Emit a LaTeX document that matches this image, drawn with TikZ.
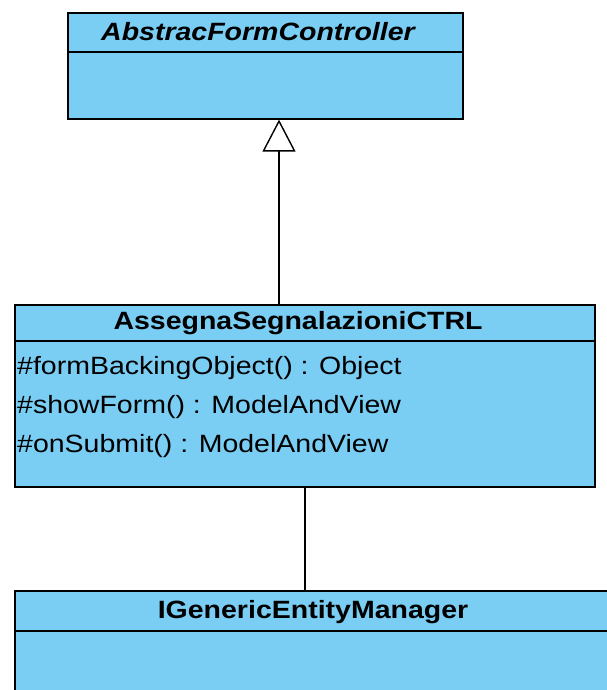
\documentclass[tikz,border=0pt]{standalone}
\usepackage{fontspec}
\setmainfont{Liberation Sans}
\newfontfamily\umlfont[FakeStretch=1.14]{Liberation Sans}
\usetikzlibrary{arrows.meta}
\definecolor{classfill}{HTML}{7ACEF4}
\begin{document}
\begin{tikzpicture}[x=1pt,y=-1pt,
  classbox/.style={draw=black, fill=classfill, line width=1.6pt, rectangle, anchor=north west, inner sep=0pt},
  classname/.style={font=\umlfont\fontsize{25}{28}\selectfont\bfseries, inner sep=0pt},
  member/.style={font=\umlfont\fontsize{25}{28}\selectfont, inner sep=0pt, anchor=west},
  link/.style={draw=black, line width=1.4pt}]
\useasboundingbox (0,0) rectangle (606,690);

% AbstracFormController
\node[classbox, minimum width=395pt, minimum height=106pt] (afc) at (67,12) {};
\draw[line width=1.6pt] (67,52) -- (462,52);
\node[classname, font=\umlfont\fontsize{25}{28}\selectfont\bfseries\itshape] (afcname) at (258,32) {AbstracFormController};

% AssegnaSegnalazioniCTRL
\node[classbox, minimum width=580pt, minimum height=182pt] (ctrl) at (14,304) {};
\draw[line width=1.6pt] (14,341) -- (594,341);
\node[classname] (ctrlname) at (298,323) {AssegnaSegnalazioniCTRL};
\node[member] (m1) at (17,368) {\#formBackingObject() : Object};
\node[member] (m2) at (17,407) {\#showForm() : ModelAndView};
\node[member] (m3) at (17,446) {\#onSubmit() : ModelAndView};

% IGenericEntityManager
\node[classbox, minimum width=600pt, minimum height=120pt] (gem) at (14,590) {};
\draw[line width=1.6pt] (14,631) -- (614,631);
\node[classname] (gemname) at (313,612) {IGenericEntityManager};

% generalization
\draw[link, -{Triangle[open, length=32pt, width=33pt, line width=1.4pt]}]
  (ctrl.north -| 279,0) -- (afc.south -| 279,0);
% association
\draw[link] (ctrl.south -| 305,0) -- (gem.north -| 305,0);
\end{tikzpicture}
\end{document}
